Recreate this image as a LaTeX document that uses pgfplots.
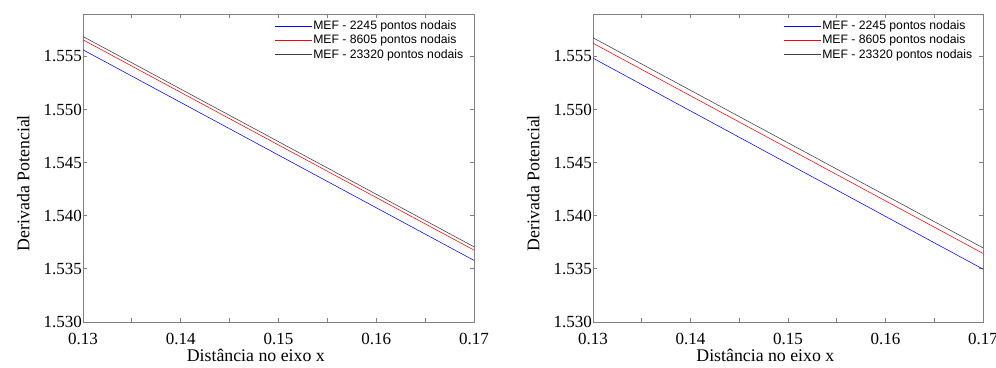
\documentclass[border=0pt]{standalone}
\usepackage{fontspec}
\setmainfont{Liberation Serif}
\newfontfamily\legfont{Liberation Sans}
\usepackage{pgfplots}
\pgfplotsset{compat=1.18}
\definecolor{axgray}{RGB}{128,128,128}
\definecolor{dkline}{RGB}{60,60,60}
\pgfplotsset{
  legend image code/.code={\draw[#1, line width=0.7pt] (0pt,0pt) -- (37pt,0pt);},
}
\pgfplotsset{
  panel/.style={
    scale only axis, width=391pt, height=308pt,
    xmin=0.13, xmax=0.17, ymin=1.530, ymax=1.559,
    axis line style={axgray, line width=0.9pt},
    tick style={axgray, line width=0.8pt},
    major tick length=4pt,
    tick align=inside,
    xtick={0.13,0.135,0.14,0.145,0.15,0.155,0.16,0.165,0.17},
    xticklabels={0.13,,0.14,,0.15,,0.16,,0.17},
    ytick={1.530,1.535,1.540,1.545,1.550,1.555},
    yticklabels={1.530,1.535,1.540,1.545,1.550,1.555},
    ticklabel style={font=\fontsize{17}{20}\selectfont, black},
    yticklabel style={inner sep=1pt},
    xticklabel style={inner sep=2pt, yshift=-9pt},
    label style={font=\fontsize{17.8}{20}\selectfont, black},
    xlabel={Distância no eixo x},
    ylabel={Derivada Potencial},
    xlabel style={at={(axis description cs:0.442,-0.110)}, anchor=center},
    ylabel style={at={(axis description cs:-0.153,0.451)}, anchor=center, rotate=0},
    legend cell align=left,
    legend style={draw=none, fill=none, at={(1,1)}, anchor=north east,
      xshift=-9pt, yshift=-4pt, font=\legfont\fontsize{12.2}{14}\selectfont,
      row sep=0.9pt, inner sep=1pt,
      nodes={inner sep=0.6pt, text height=9.5pt, text depth=2.8pt}},
  }
}
\begin{document}
\begin{tikzpicture}
\useasboundingbox (-83pt,-45pt) rectangle (913pt,322pt);
\begin{axis}[panel, at={(0pt,0pt)}, anchor=south west]
\addplot[blue, line width=0.55pt] coordinates {(0.13,1.55563) (0.17,1.53580)};
\addplot[red, line width=0.55pt] coordinates {(0.13,1.55657) (0.17,1.53677)};
\addplot[dkline, line width=0.55pt] coordinates {(0.13,1.55688) (0.17,1.53708)};
\legend{MEF - 2245 pontos nodais, MEF - 8605 pontos nodais, MEF - 23320 pontos nodais}
\end{axis}
\begin{axis}[panel, at={(510pt,0pt)}, anchor=south west, width=390pt]
\addplot[blue, line width=0.55pt] coordinates {(0.13,1.55484) (0.17,1.53498)};
\addplot[red, line width=0.55pt] coordinates {(0.13,1.55625) (0.17,1.53646)};
\addplot[dkline, line width=0.55pt] coordinates {(0.13,1.55676) (0.17,1.53698)};
\legend{MEF - 2245 pontos nodais, MEF - 8605 pontos nodais, MEF - 23320 pontos nodais}
\end{axis}
\end{tikzpicture}
\end{document}
